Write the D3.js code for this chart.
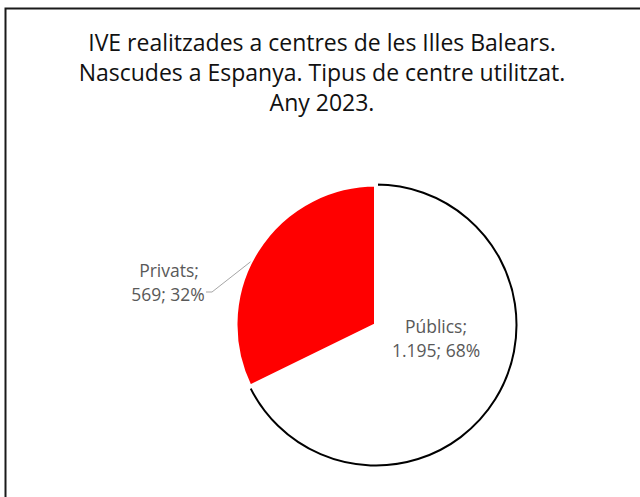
<!DOCTYPE html>
<html>
<head>
<meta charset="utf-8">
<script src="https://cdn.jsdelivr.net/npm/d3@7"></script>
<style>
  html, body { margin: 0; padding: 0; background: #fff; }
  svg { display: block; }
  text { font-family: "Open Sans", "Noto Sans", sans-serif; }
</style>
</head>
<body>
<svg id="chart" width="640" height="497"></svg>
<script>
// Chart data
const titleLines = [
  "IVE realitzades a centres de les Illes Balears.",
  "Nascudes a Espanya. Tipus de centre utilitzat.",
  "Any 2023."
];
const categories = ["Públics", "Privats"];
const values = [1195, 569];
const valueLabels = ["1.195", "569"];
const colors = ["#ffffff", "#ff0000"];

const svg = d3.select("#chart");

// Outer frame
svg.append("rect")
  .attr("x", 5.5).attr("y", 8.5)
  .attr("width", 700).attr("height", 600)
  .attr("fill", "#fff")
  .attr("stroke", "#1a1a1a")
  .attr("stroke-width", 2);

// Title
svg.append("g").selectAll("text")
  .data(titleLines)
  .join("text")
  .attr("x", 322)
  .attr("y", (d, i) => 51 + i * 30)
  .attr("text-anchor", "middle")
  .attr("font-size", 23)
  .attr("fill", "#111")
  .text(d => d);

// Pie
const cx = 376, cy = 325, r = 140.5;
const total = d3.sum(values);
const data = categories.map((c, i) => ({ name: c, value: values[i], label: valueLabels[i], color: colors[i] }));

const pie = d3.pie().value(d => d.value).sort(null);
const arcs = pie(data);
const arc = d3.arc().innerRadius(0).outerRadius(r);

const g = svg.append("g").attr("transform", `translate(${cx},${cy})`);

// White slice with black outline first, red slice with white border on top
g.append("path")
  .attr("d", arc(arcs[0]))
  .attr("fill", colors[0])
  .attr("stroke", "#000")
  .attr("stroke-width", 2);

g.append("path")
  .attr("d", arc(arcs[1]))
  .attr("fill", colors[1])
  .attr("stroke", "#fff")
  .attr("stroke-width", 4)
  .attr("stroke-linejoin", "miter");

const pct = d => Math.round(d.value / total * 100) + "%";

// Públics label (inside the slice)
const lblPub = svg.append("text")
  .attr("text-anchor", "middle")
  .attr("font-size", 17.5)
  .attr("fill", "#595959");
lblPub.append("tspan").attr("x", 436).attr("y", 333).text(data[0].name + ";");
lblPub.append("tspan").attr("x", 436).attr("y", 357).text(data[0].label + "; " + pct(data[0]));

// Privats label (outside with leader line)
const lblPriv = svg.append("text")
  .attr("text-anchor", "middle")
  .attr("font-size", 17.5)
  .attr("fill", "#595959");
lblPriv.append("tspan").attr("x", 169).attr("y", 277).text(data[1].name + ";");
lblPriv.append("tspan").attr("x", 168).attr("y", 301).text(data[1].label + "; " + pct(data[1]));

// Leader line to the edge of the Privats slice
const edgeAngle = arcs[1].startAngle + (arcs[1].endAngle - arcs[1].startAngle) * 0.455;
const ex = cx + r * Math.sin(edgeAngle);
const ey = cy - r * Math.cos(edgeAngle);
svg.append("path")
  .attr("d", d3.line()([[206, 292], [212, 292], [ex, ey]]))
  .attr("fill", "none")
  .attr("stroke", "#a6a6a6")
  .attr("stroke-width", 1);
</script>
</body>
</html>
